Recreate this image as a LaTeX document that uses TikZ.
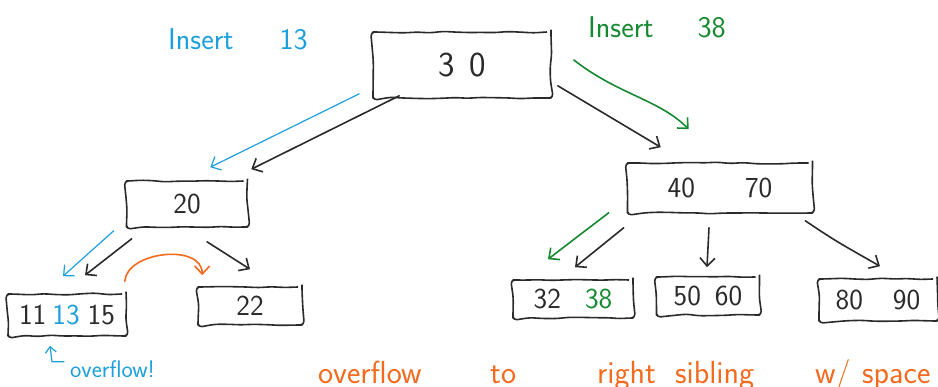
\documentclass[tikz,border=0pt]{standalone}
\usetikzlibrary{arrows.meta,decorations.pathmorphing,calc}
\definecolor{ink}{HTML}{2A2A2A}
\definecolor{inkblue}{HTML}{1C9FDA}
\definecolor{inkgreen}{HTML}{15892F}
\definecolor{inkorange}{HTML}{F26A1E}
\newcommand{\wordat}[2]{\makebox[#1][l]{#2}}
\begin{document}
\begin{tikzpicture}[x=1pt,y=-1pt,
  keybox/.style={draw=ink, line width=1.6pt, line join=round, rounded corners=4pt,
    decorate, decoration={random steps, segment length=13pt, amplitude=0.9pt},
    inner sep=0pt, text=ink, font=\sffamily\fontsize{29}{29}\selectfont},
  link/.style={draw=ink, line width=1.6pt, line cap=round,
    -{Straight Barb[length=8pt,width=15pt,line width=1.6pt]}},
  bluelink/.style={link, draw=inkblue, line width=1.2pt,
    -{Straight Barb[length=8pt,width=15pt,line width=1.2pt]}},
  greenlink/.style={link, draw=inkgreen},
  orangelink/.style={link, draw=inkorange},
  note/.style={font=\sffamily\fontsize{30}{30}\selectfont, inner sep=0pt}]

\clip (0,0) rectangle (938,387);

% annotations
\node[note, text=inkblue, anchor=base west] (ins13) at (168,50) {Insert\hspace{46pt}13};
\node[note, text=inkgreen, anchor=base west] (ins38) at (588,38) {Insert\hspace{44pt}38};

% root
\node[keybox, minimum width=178pt, minimum height=66pt,
      font=\sffamily\fontsize{35}{35}\selectfont] (root) at (462,65) {3\hspace{14pt}0};

% inner nodes
\node[keybox, minimum width=121pt, minimum height=46pt] (n20) at (187,204) {20};
\node[keybox, minimum width=185pt, minimum height=50pt] (n4070) at (720,188)
  {40\hspace{50pt}70};

% leaves
\node[keybox, minimum width=118pt, minimum height=42pt] (leafA) at (67,315)
  {11\hspace{6pt}\textcolor{inkblue}{13}\hspace{8pt}15};
\node[keybox, minimum width=104pt, minimum height=38pt] (leafB) at (250,306) {22};
\node[keybox, minimum width=120pt, minimum height=38pt] (leafC) at (573,299)
  {32\hspace{24pt}\textcolor{inkgreen}{38}};
\node[keybox, minimum width=103pt, minimum height=38pt] (leafD) at (708,296)
  {50\hspace{14pt}60};
\node[keybox, minimum width=118pt, minimum height=42pt] (leafE) at (878,300)
  {80\hspace{30pt}90};

% root to children
\draw[bluelink] ($(root.south west)+(-13,-5)$) -- ($(n20.north east)+(-38,-13)$);
\draw[link] ($(root.south west)+(27,-3)$) -- ($(n20.north east)+(3,-11)$);
\draw[link] ($(root.south east)+(6,-13)$) -- ($(n4070.north west)+(34,-15)$);
\draw[greenlink] ($(root.east)+(22,-5)$) .. controls +(45,35) and +(-30,-30) ..
  ($(n4070.north west)+(62,-33)$);

% 20 to its leaves
\draw[bluelink] ($(n20.south west)+(-12,3)$) -- ($(leafA.north)+(-4,-17)$);
\draw[link] ($(n20.south west)+(6,11)$) -- ($(leafA.north)+(18,-18)$);
\draw[link] ($(n20.south)+(20,14)$) -- ($(leafB.north)+(0,-17)$);
\draw[orangelink] ($(leafA.north east)+(-2,-12)$) .. controls +(2,-30) and +(0,-32) ..
  ($(leafB.north west)+(5,-11)$);

% 40|70 to its leaves
\draw[greenlink] ($(n4070.south west)+(-18,-1)$) -- ($(leafC.north)+(-25,-20)$);
\draw[link] ($(n4070.south west)+(-3,14)$) -- ($(leafC.north)+(2,-12)$);
\draw[link] ($(n4070.south)+(-11,14)$) -- ($(leafD.north)+(-1,-9)$);
\draw[link] ($(n4070.south east)+(-8,7)$) .. controls +(30,20) .. ($(leafE.north)+(2,-12)$);

% overflow remark
\node[note, text=inkblue, anchor=base west, font=\sffamily\fontsize{24}{24}\selectfont]
  (ovf) at (70,378) {overflow!};
\draw[bluelink, -{Straight Barb[length=6pt,width=11pt,line width=1.2pt]}]
  ($(ovf.west)+(-6,-8)$) -- ($(ovf.west)+(-18,-8)$) -- ($(leafA.south)+(-17,9)$);

% orange remark, running off the lower edge
\node[note, text=inkorange, anchor=base west, font=\sffamily\fontsize{32}{32}\selectfont]
  (hint) at (318,384)
  {\wordat{172pt}{overflow}\wordat{107pt}{to}\wordat{78pt}{right}\wordat{140pt}{sibling}\wordat{47pt}{w/}space};
\end{tikzpicture}
\end{document}
